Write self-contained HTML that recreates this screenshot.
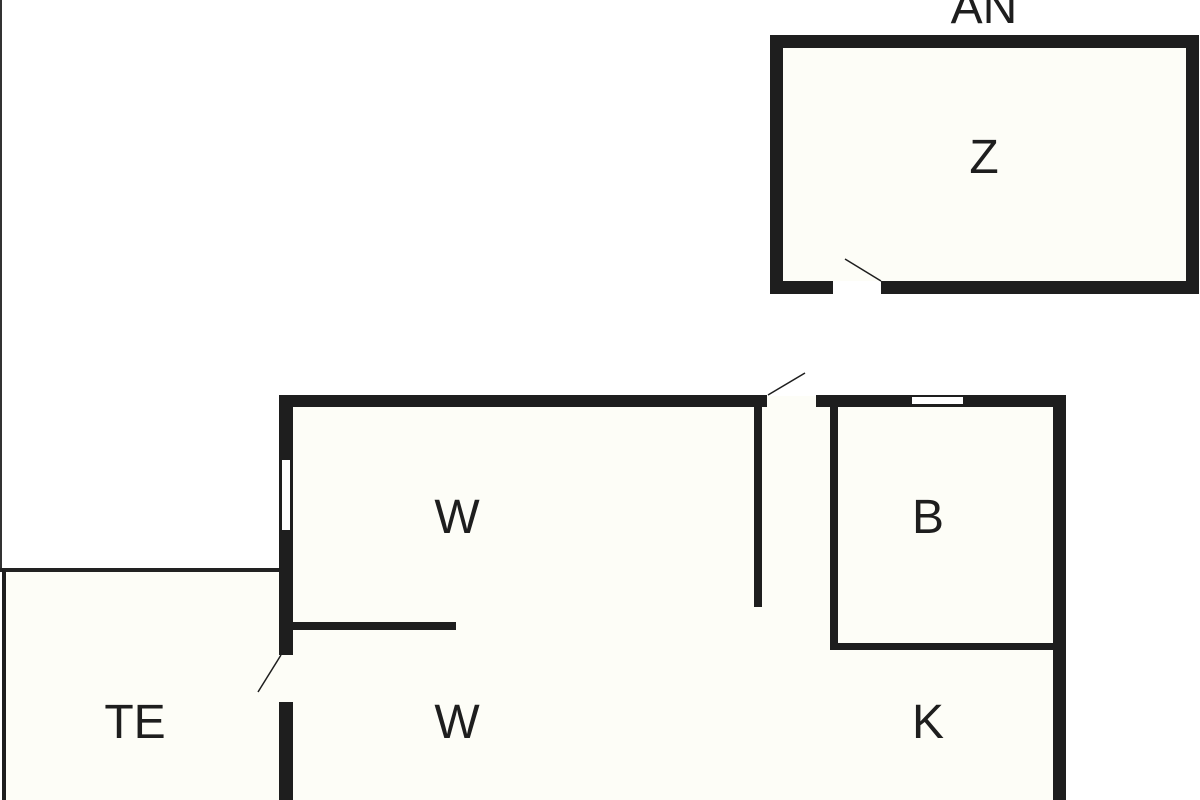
<!DOCTYPE html>
<html><head><style>html,body{margin:0;padding:0;background:#fff}svg{display:block}</style></head>
<body>
<svg width="1200" height="800" viewBox="0 0 1200 800" xmlns="http://www.w3.org/2000/svg" font-family="Liberation Sans, sans-serif" fill="#1e1e1e">
<rect width="1200" height="800" fill="#fff"/>
<!-- left border line -->
<rect x="0" y="0" width="2" height="572" fill="#333"/>
<!-- fills -->
<rect x="4" y="571" width="276" height="229" fill="#fdfdf7"/>
<rect x="292" y="406" width="762" height="394" fill="#fdfdf7"/>
<rect x="782" y="47" width="405" height="234" fill="#fdfdf7"/>
<!-- TE -->
<rect x="0" y="568" width="281" height="4" fill="#222"/>
<rect x="2" y="570" width="4" height="230"/>
<!-- main walls -->
<rect x="279" y="395" width="14" height="405"/>
<rect x="282" y="460" width="8" height="70" fill="#fff"/>
<rect x="279" y="655" width="14" height="47" fill="#fdfdf7"/>
<rect x="279" y="395" width="488" height="12"/>
<rect x="767" y="396" width="49" height="11" fill="#fdfdf7"/>
<rect x="816" y="395" width="250" height="12"/>
<rect x="912" y="397" width="51" height="7" fill="#fff"/>
<rect x="1053" y="395" width="13" height="405"/>
<rect x="754" y="407" width="8" height="200"/>
<rect x="830" y="407" width="8" height="243"/>
<rect x="830" y="643" width="223" height="7"/>
<rect x="293" y="622" width="163" height="8"/>
<!-- Z -->
<rect x="770" y="35" width="429" height="13"/>
<rect x="770" y="35" width="13" height="259"/>
<rect x="1186" y="35" width="13" height="259"/>
<rect x="770" y="281" width="63" height="13"/>
<rect x="881" y="281" width="318" height="13"/>
<!-- door leaves -->
<g stroke="#1e1e1e" stroke-width="1.5">
<line x1="845" y1="259" x2="881" y2="281"/>
<line x1="768" y1="395" x2="805" y2="373"/>
<line x1="281" y1="655" x2="258" y2="692"/>
</g>
<g font-size="48" text-anchor="middle">
<text x="984" y="23">AN</text>
<text x="984" y="173">Z</text>
<text x="457" y="533">W</text>
<text x="928" y="533">B</text>
<text x="457" y="738">W</text>
<text x="928" y="738">K</text>
<text x="135" y="738">TE</text>
</g>
</svg>
</body></html>
